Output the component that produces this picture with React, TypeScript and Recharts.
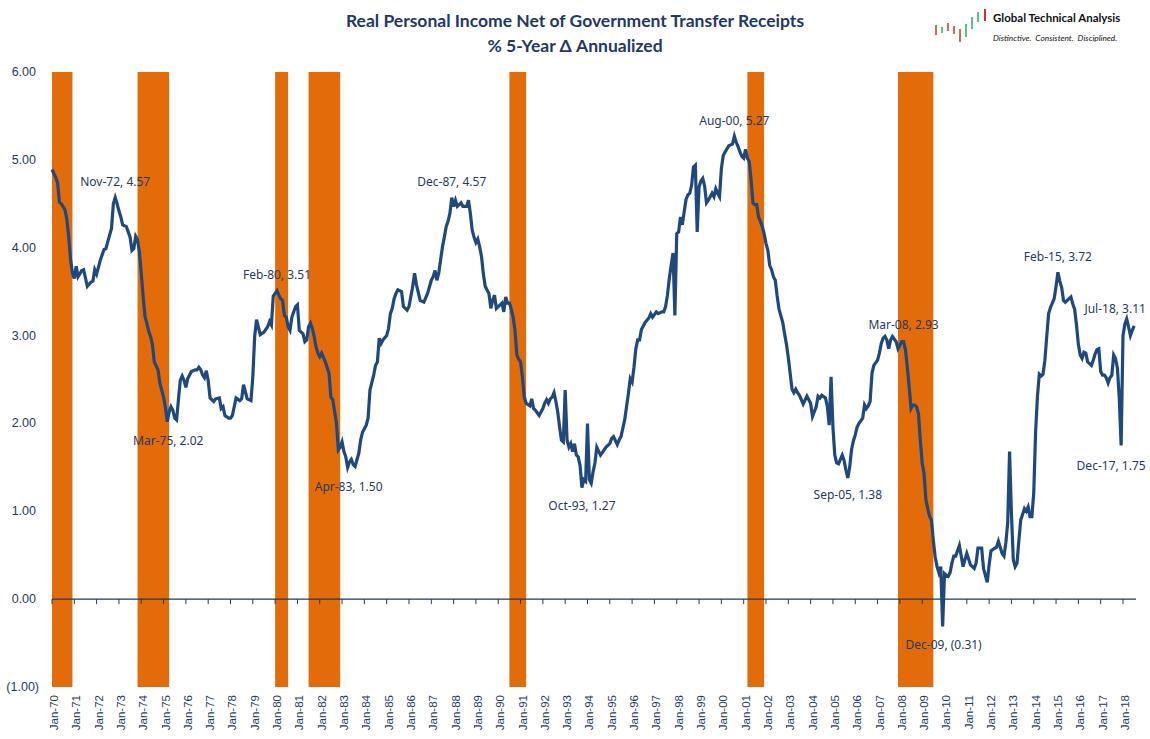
import React from 'react';
import {
  LineChart,
  Line,
  XAxis,
  YAxis,
  ReferenceArea,
  ReferenceLine,
  ReferenceDot,
} from 'recharts';

// x = months since Jan-70, y = % 5-year change, annualized
const obs1970s: [number, number][] = [
  [0, 4.89], [2, 4.8], [3, 4.74], [4, 4.52], [5, 4.5], [7, 4.43], [8, 4.32], [9, 4.12],
  [10, 3.86], [11, 3.71], [12, 3.65], [13, 3.79], [14, 3.67], [16, 3.74], [17, 3.75],
  [19, 3.56], [21, 3.61], [22, 3.62], [23, 3.75], [24, 3.7], [26, 3.86], [28, 3.98],
  [29, 3.99], [30, 4.07], [32, 4.22], [33, 4.5], [34, 4.57], [35, 4.5], [36, 4.42],
  [37, 4.35], [38, 4.26], [40, 4.24], [41, 4.18], [42, 4.12], [43, 3.97], [44, 3.99],
  [45, 4.13], [46, 4.09], [47, 3.95], [48, 3.71], [49, 3.45], [50, 3.22], [51, 3.14],
  [52, 3.05], [53, 2.99], [54, 2.9], [55, 2.7], [57, 2.61], [58, 2.46], [60, 2.3],
  [61, 2.18], [62, 2.02], [63, 2.13], [64, 2.19], [65, 2.15], [66, 2.06], [67, 2.04],
  [68, 2.27], [69, 2.49], [70, 2.54], [71, 2.49], [72, 2.41], [73, 2.51], [75, 2.59],
  [77, 2.61], [78, 2.61], [79, 2.64], [80, 2.61], [81, 2.55], [82, 2.52], [83, 2.6],
  [84, 2.49], [85, 2.29], [87, 2.25], [88, 2.28], [90, 2.29], [91, 2.17], [92, 2.19],
  [93, 2.09], [95, 2.06], [96, 2.06], [97, 2.09], [98, 2.19], [99, 2.29], [101, 2.26],
  [102, 2.28], [103, 2.44], [105, 2.28], [107, 2.26], [108, 2.53], [109, 2.99],
  [110, 3.18], [112, 3.01], [114, 3.04], [116, 3.1], [117, 3.16], [118, 3.12], [119, 3.45],
];

const obs1980s: [number, number][] = [
  [120, 3.48], [121, 3.51], [122, 3.46], [123, 3.42], [124, 3.4], [125, 3.23], [126, 3.21],
  [127, 3.1], [128, 3.06], [129, 3.21], [131, 3.33], [132, 3.35], [133, 3.06], [135, 3.02],
  [136, 2.93], [137, 2.95], [138, 3.1], [139, 3.14], [140, 3.08], [141, 2.99], [142, 2.87],
  [143, 2.8], [144, 2.76], [145, 2.8], [147, 2.7], [149, 2.57], [150, 2.3], [151, 2.27],
  [153, 2.0], [154, 1.7], [155, 1.73], [156, 1.79], [157, 1.68], [158, 1.62], [159, 1.5],
  [160, 1.56], [161, 1.59], [162, 1.53], [163, 1.51], [165, 1.66], [166, 1.81], [167, 1.9],
  [169, 1.98], [170, 2.06], [171, 2.38], [173, 2.55], [174, 2.66], [175, 2.7], [176, 2.97],
  [177, 2.91], [178, 2.95], [180, 3.0], [181, 3.08], [182, 3.25], [183, 3.31], [184, 3.42],
  [185, 3.48], [186, 3.52], [188, 3.5], [189, 3.33], [191, 3.29], [192, 3.33], [194, 3.56],
  [195, 3.71], [196, 3.58], [198, 3.4], [200, 3.38], [202, 3.48], [204, 3.63], [205, 3.67],
  [206, 3.74], [207, 3.63], [208, 3.71], [209, 3.86], [210, 4.01], [211, 4.12], [212, 4.24],
  [213, 4.3], [214, 4.39], [215, 4.57], [216, 4.47], [217, 4.54], [218, 4.47], [220, 4.51],
  [221, 4.47], [223, 4.47], [224, 4.54], [225, 4.39], [226, 4.2], [227, 4.12], [228, 4.06],
  [229, 4.1], [230, 4.01], [231, 3.9], [232, 3.7], [233, 3.56], [234, 3.52], [235, 3.48],
  [236, 3.31], [237, 3.4], [238, 3.46], [239, 3.31],
];

const obs1990s: [number, number][] = [
  [240, 3.33], [242, 3.37], [243, 3.27], [244, 3.44], [245, 3.37], [246, 3.37], [247, 3.3],
  [248, 3.21], [249, 3.06], [250, 2.78], [251, 2.73], [252, 2.7], [253, 2.53], [254, 2.3],
  [255, 2.23], [257, 2.2], [258, 2.28], [259, 2.17], [260, 2.15], [262, 2.09], [263, 2.13],
  [264, 2.17], [265, 2.23], [266, 2.27], [267, 2.23], [268, 2.28], [269, 2.3], [270, 2.35],
  [271, 2.25], [272, 2.13], [273, 1.96], [274, 1.81], [275, 1.79], [276, 2.38], [277, 1.81],
  [278, 1.73], [279, 1.77], [280, 1.68], [281, 1.77], [282, 1.64], [283, 1.62], [284, 1.52],
  [285, 1.27], [286, 1.36], [287, 1.34], [288, 2.0], [289, 1.36], [290, 1.32], [291, 1.45],
  [292, 1.55], [293, 1.73], [295, 1.64], [297, 1.7], [298, 1.73], [300, 1.77], [301, 1.83],
  [302, 1.85], [304, 1.76], [305, 1.81], [306, 1.85], [308, 2.04], [309, 2.19], [310, 2.34],
  [311, 2.51], [312, 2.47], [313, 2.64], [314, 2.85], [315, 2.95], [316, 2.95], [317, 3.07],
  [319, 3.15], [321, 3.2], [322, 3.25], [323, 3.21], [325, 3.27], [326, 3.25], [328, 3.27],
  [329, 3.27], [330, 3.33], [331, 3.46], [332, 3.65], [333, 3.8], [334, 3.94], [335, 3.23],
  [336, 4.16], [337, 4.18], [338, 4.35], [339, 4.26], [340, 4.41], [341, 4.55], [342, 4.6],
  [343, 4.62], [344, 4.71], [345, 4.92], [346, 4.94], [347, 4.18], [348, 4.69], [349, 4.76],
  [350, 4.79], [351, 4.7], [352, 4.51], [353, 4.54], [355, 4.62], [356, 4.58], [357, 4.67],
  [358, 4.62], [359, 4.58],
];

const obs2000s: [number, number][] = [
  [360, 4.9], [361, 5.05], [362, 5.09], [364, 5.16], [365, 5.17], [366, 5.18], [367, 5.27],
  [368, 5.2], [369, 5.15], [370, 5.09], [371, 5.04], [372, 5.02], [373, 5.12], [374, 5.02],
  [375, 4.98], [376, 4.77], [377, 4.51], [378, 4.49], [379, 4.49], [380, 4.35], [381, 4.3],
  [382, 4.24], [383, 4.16], [384, 4.05], [385, 3.97], [386, 3.8], [387, 3.75], [388, 3.67],
  [389, 3.63], [390, 3.45], [391, 3.3], [393, 3.15], [394, 3.02], [395, 2.9], [396, 2.75],
  [397, 2.57], [398, 2.39], [399, 2.35], [400, 2.39], [401, 2.35], [402, 2.32], [403, 2.27],
  [404, 2.22], [406, 2.31], [408, 2.23], [409, 2.08], [411, 2.19], [412, 2.31], [413, 2.29],
  [414, 2.32], [416, 2.29], [417, 2.19], [418, 1.98], [419, 2.53], [420, 1.96], [421, 1.64],
  [422, 1.55], [423, 1.54], [425, 1.64], [426, 1.58], [427, 1.47], [428, 1.38], [429, 1.5],
  [430, 1.7], [431, 1.8], [432, 1.87], [433, 1.96], [434, 2.0], [436, 2.06], [437, 2.21],
  [438, 2.17], [439, 2.2], [440, 2.25], [441, 2.57], [442, 2.66], [444, 2.72], [445, 2.8],
  [446, 2.91], [447, 2.97], [448, 2.99], [449, 2.95], [450, 2.85], [451, 2.95], [452, 2.99],
  [454, 2.93], [455, 2.85], [456, 2.89], [457, 2.93], [458, 2.93], [459, 2.84], [460, 2.64],
  [461, 2.42], [462, 2.17], [463, 2.21], [464, 2.21], [465, 2.19], [466, 2.11], [467, 1.81],
  [468, 1.55], [469, 1.43], [470, 1.13], [471, 1.03], [472, 0.94], [473, 0.9], [474, 0.67],
  [475, 0.48], [476, 0.37], [477, 0.3], [478, 0.37], [479, -0.31],
];

const obs2010s: [number, number][] = [
  [480, 0.29], [481, 0.27], [482, 0.26], [483, 0.3], [484, 0.41], [485, 0.49], [486, 0.49],
  [487, 0.55], [488, 0.61], [490, 0.37], [491, 0.45], [492, 0.52], [494, 0.39], [496, 0.35],
  [497, 0.41], [498, 0.58], [500, 0.58], [501, 0.35], [503, 0.19], [504, 0.39], [505, 0.55],
  [507, 0.58], [508, 0.59], [509, 0.66], [511, 0.52], [512, 0.49], [513, 0.64], [514, 0.87],
  [515, 1.68], [516, 0.98], [517, 0.45], [518, 0.37], [519, 0.41], [520, 0.67], [521, 0.9],
  [523, 1.03], [524, 1.0], [525, 1.05], [526, 0.94], [527, 0.94], [528, 1.21], [529, 1.9],
  [530, 2.31], [531, 2.56], [532, 2.54], [533, 2.56], [534, 2.72], [535, 2.99], [536, 3.25],
  [537, 3.32], [538, 3.37], [539, 3.42], [540, 3.56], [541, 3.72], [542, 3.62], [543, 3.55],
  [544, 3.4], [545, 3.38], [547, 3.42], [548, 3.44], [549, 3.36], [550, 3.3], [551, 3.12],
  [552, 2.9], [553, 2.78], [554, 2.74], [555, 2.81], [556, 2.8], [557, 2.7], [558, 2.68],
  [559, 2.66], [560, 2.72], [561, 2.79], [562, 2.84], [563, 2.85], [564, 2.59], [565, 2.55],
  [566, 2.55], [567, 2.52], [568, 2.46], [569, 2.52], [570, 2.55], [571, 2.78], [572, 2.74],
  [573, 2.63], [574, 2.29], [575, 1.75], [576, 3.0], [577, 3.13], [578, 3.19], [579, 3.1],
  [580, 3.0], [581, 3.06], [582, 3.11],
];

// NBER recessions, [first month, month after last]
const recessions: [number, number][] = [
  [0, 11], [46, 63], [120, 127], [138, 155], [246, 255], [374, 383], [455, 474],
];

// highs / lows that carry a data label
const calloutMonths = [34, 62, 121, 159, 215, 285, 367, 428, 458, 479, 541, 575, 582];

const yTicks = [-1, 0, 1, 2, 3, 4, 5, 6];
const yearTicks = Array.from({ length: 49 }, (_, i) => i * 12);
const MONTHS = ['Jan', 'Feb', 'Mar', 'Apr', 'May', 'Jun', 'Jul', 'Aug', 'Sep', 'Oct', 'Nov', 'Dec'];

const data = [...obs1970s, ...obs1980s, ...obs1990s, ...obs2000s, ...obs2010s].map(
  ([m, v]) => ({ m, v })
);

const NAVY = '#1F3A5F';
const LINE = '#1F497D';
const ORANGE = '#E36C0A';

const monthLabel = (m: number) =>
  `${MONTHS[m % 12]}-${String((70 + Math.floor(m / 12)) % 100).padStart(2, '0')}`;
const fmt = (v: number) => (v < 0 ? `(${Math.abs(v).toFixed(2)})` : v.toFixed(2));
const valueAt = (m: number) => data.find((d) => d.m === m)?.v ?? 0;

// label placement relative to the point: [dx, dy]
const calloutOffset: Record<number, [number, number]> = {
  34: [0, -16], 62: [1, 19], 121: [0, -16], 159: [1, 19], 215: [0, -16], 285: [0, 18],
  367: [0, -16], 428: [0, 17], 458: [0, -17], 479: [1, 18], 541: [0, -16], 575: [-10, 20],
  582: [-19, -17],
};

const XTick = ({ x, y, payload }: any) => (
  <text
    x={x + 2}
    y={y}
    transform={`rotate(-90 ${x + 2} ${y})`}
    textAnchor="end"
    dominantBaseline="central"
    fontSize={11.5}
    fontFamily="Liberation Sans, Arial, sans-serif"
    fill={NAVY}
  >
    {monthLabel(payload.value)}
  </text>
);

const YTick = ({ x, y, payload }: any) => (
  <text
    x={payload.value < 0 ? x + 3 : x}
    y={y}
    textAnchor="end"
    dominantBaseline="central"
    fontSize={12.5}
    fontFamily="Liberation Sans, Arial, sans-serif"
    fill={NAVY}
  >
    {fmt(payload.value)}
  </text>
);

export default function App() {
  return (
    <div style={{ position: 'absolute', left: 0, top: 0, width: 1150, height: 739, background: '#fff' }}>
      <div
        style={{
          position: 'absolute',
          left: 0,
          top: 8,
          width: 1150,
          textAlign: 'center',
          fontFamily: 'Lato, sans-serif',
          fontWeight: 700,
          fontSize: 17.5,
          lineHeight: '25px',
          color: '#1F3864',
        }}
      >
        <div>Real Personal Income Net of Government Transfer Receipts</div>
        <div>% 5-Year Δ Annualized</div>
      </div>

      <svg style={{ position: 'absolute', left: 934, top: 9 }} width={56} height={36}>
        <g strokeWidth={1.5}>
          <line x1={2} y1={16} x2={2} y2={26} stroke="#c0392b" />
          <line x1={8} y1={18} x2={8} y2={24} stroke="#27ae60" />
          <line x1={14} y1={14} x2={14} y2={22} stroke="#c0392b" />
          <line x1={20} y1={17} x2={20} y2={25} stroke="#c0392b" />
          <line x1={26} y1={20} x2={26} y2={33} stroke="#c0392b" />
          <line x1={32} y1={15} x2={32} y2={28} stroke="#27ae60" />
          <line x1={38} y1={8} x2={38} y2={20} stroke="#27ae60" />
          <line x1={44} y1={3} x2={44} y2={13} stroke="#27ae60" />
          <line x1={51} y1={0} x2={51} y2={12} stroke="#c0392b" strokeWidth={2} />
        </g>
      </svg>
      <div
        style={{
          position: 'absolute',
          left: 993,
          top: 11,
          fontFamily: 'Lato, sans-serif',
          fontWeight: 700,
          fontSize: 11.5,
          color: '#111',
          whiteSpace: 'nowrap',
        }}
      >
        Global Technical Analysis
      </div>
      <div
        style={{
          position: 'absolute',
          left: 993,
          top: 33,
          fontFamily: 'Lato, sans-serif',
          fontStyle: 'italic',
          fontSize: 8.3,
          color: '#111',
          whiteSpace: 'nowrap',
        }}
      >
        Distinctive.&nbsp; Consistent.&nbsp; Disciplined.
      </div>

      <LineChart
        width={1150}
        height={739}
        data={data}
        margin={{ top: 72, right: 14, bottom: 0, left: 0 }}
        style={{ position: 'absolute', left: 0, top: 0 }}
      >
        <XAxis
          dataKey="m"
          type="number"
          domain={[0, 583]}
          ticks={yearTicks}
          interval={0}
          axisLine={false}
          tickLine={false}
          tickSize={0}
          tickMargin={8}
          height={52}
          tick={(p: any) => <XTick {...p} />}
        />
        <YAxis
          type="number"
          domain={[-1, 6]}
          ticks={yTicks}
          interval={0}
          width={52}
          axisLine={false}
          tickLine={false}
          tickSize={0}
          tickMargin={16}
          tick={(p: any) => <YTick {...p} />}
        />
        {recessions.map(([a, b]) => (
          <ReferenceArea key={a} x1={a} x2={b} y1={-1} y2={6} fill={ORANGE} fillOpacity={1} stroke="none" />
        ))}
        <ReferenceLine y={0} stroke={NAVY} strokeWidth={1.2} />
        {yearTicks.map((t) => (
          <ReferenceDot
            key={`t${t}`}
            x={t}
            y={0}
            shape={(p: any) => (
              <line x1={p.cx} x2={p.cx} y1={p.cy} y2={p.cy + 5} stroke={NAVY} strokeWidth={1} />
            )}
          />
        ))}
        <Line
          type="linear"
          dataKey="v"
          stroke={LINE}
          strokeWidth={3.2}
          dot={false}
          activeDot={false}
          isAnimationActive={false}
        />
        {calloutMonths.map((m) => {
          const v = valueAt(m);
          const [dx, dy] = calloutOffset[m];
          return (
            <ReferenceDot
              key={`c${m}`}
              x={m}
              y={v}
              shape={(p: any) => (
                <text
                  x={p.cx + dx}
                  y={p.cy + dy}
                  textAnchor="middle"
                  dominantBaseline="central"
                  fontSize={12}
                  fontFamily="Noto Sans, Open Sans, sans-serif"
                  fill={NAVY}
                >
                  {`${monthLabel(m)}, ${fmt(v)}`}
                </text>
              )}
            />
          );
        })}
      </LineChart>
    </div>
  );
}
